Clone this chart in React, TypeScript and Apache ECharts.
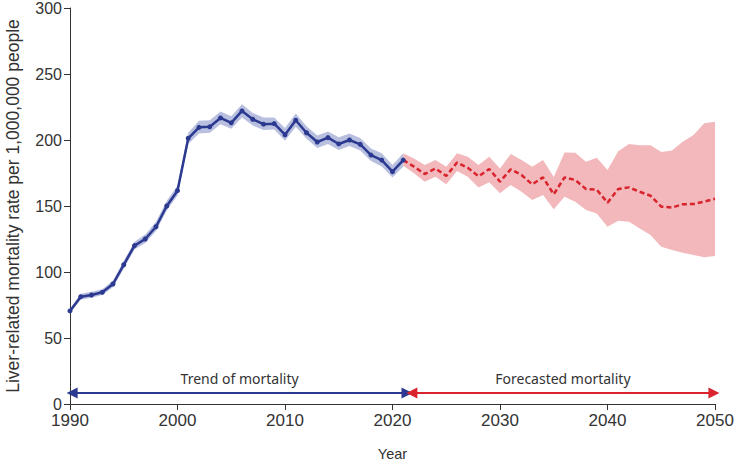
import React, { useEffect, useRef } from "react";
import * as echarts from "echarts";

const trendYears = [1990,1991,1992,1993,1994,1995,1996,1997,1998,1999,2000,2001,2002,2003,2004,2005,2006,2007,2008,2009,2010,2011,2012,2013,2014,2015,2016,2017,2018,2019,2020,2021];
const trendMean = [70.5,81.3,82.6,84.6,90.9,105.5,120,125,134.3,150,161.6,201.3,209.6,210,216.7,213,222,215.7,212,212.4,204,215,205.5,198.5,201.8,197,200,196.7,188.6,184.8,176,184.8];
const trendLower = [69,79,80.5,82.5,88.5,102.5,117,122,131,146.5,158,197,205,205.5,212,208.5,217,211,207.5,208,199.5,210,201,194,197,192.5,195.5,192,184,180,171.5,180];
const trendUpper = [72,83.5,85,87,93.5,108.5,123,128.5,138,154,165.5,205.5,214.5,215,221.5,218,227,220.5,217,217,209,220,210.5,203.5,206.5,202,205,201.5,193.5,190,181,190];

const forecastYears = [2021,2022,2023,2024,2025,2026,2027,2028,2029,2030,2031,2032,2033,2034,2035,2036,2037,2038,2039,2040,2041,2042,2043,2044,2045,2046,2047,2048,2049,2050];
const forecastMean = [184.8,179.8,174.2,178.5,172.7,183,179,172.5,178,168.4,177.8,173.5,166.4,171.7,158.9,171.7,169.7,162.9,162.4,152.5,162.9,164.1,160.8,157.8,149.5,148.8,151.3,151.5,153.3,155.5];
const forecastUpper = [190,186,181,184.8,179.8,190,187.4,181,187.4,178.5,189.4,184.8,179.8,184.8,172,190.6,190.4,183.6,186.6,177.3,191.4,197,196,196,191,192,198.7,203.8,212.6,213.9];
const forecastLower = [180.5,174.8,168.4,172.2,166.4,176.5,172.2,164,168,159.6,166,160.8,154.5,158.3,147.5,157,153.3,147,144.4,134.3,138.9,138.1,133,128,119.2,116.7,114.6,112.9,111.1,112.1];

const arrowLevel = 8.3;
const trendArrow = [1990.2, 2021.35];
const forecastArrow = [2021.8, 2049.9];
const trendLabel = "Trend of mortality";
const forecastLabel = "Forecasted mortality";

const BLUE = "#2b3990";
const RED = "#d9232d";
const AXIS = "#333333";

export default function App() {
  const ref = useRef<HTMLDivElement>(null);
  useEffect(() => {
    if (!ref.current) return;
    const chart = echarts.init(ref.current, null, { renderer: "svg" });
    const pairs = (xs: number[], ys: number[]) => xs.map((x, i) => [x, ys[i]]);
    const band = (xs: number[], mean: number[], up: number[], lo: number[], fill: string) => ({
      type: "custom",
      silent: true,
      data: pairs(xs, mean),
      encode: { x: 0, y: 1 },
      z: 1,
      renderItem: (params: any, api: any) => {
        if (params.dataIndex !== 0) return null;
        const top = xs.map((x, i) => api.coord([x, up[i]]));
        const bottom = xs.map((x, i) => api.coord([x, lo[i]])).reverse();
        return {
          type: "polygon",
          shape: { points: top.concat(bottom) },
          style: { fill },
        };
      },
    });
    const arrowLine = (from: number, to: number, color: string, text: string) => ({
      type: "line",
      data: [],
      silent: true,
      markLine: {
        silent: true,
        symbol: ["triangle", "triangle"],
        symbolSize: [11, 11],
        lineStyle: { color, width: 2, type: "solid" },
        itemStyle: { color },
        label: {
          show: true,
          position: "insideMiddleTop",
          distance: 8,
          formatter: text,
          color: "#333",
          fontFamily: "Noto Sans",
          fontSize: 14,
        },
        emphasis: { disabled: true },
        data: [[{ coord: [from, arrowLevel] }, { coord: [to, arrowLevel] }]],
      },
    });
    chart.setOption({
      animation: false,
      grid: { left: 70, right: 20, top: 8, bottom: 57, containLabel: false, outerBoundsMode: "none" },
      xAxis: {
        type: "value",
        min: 1990,
        max: 2050,
        interval: 10,
        name: "Year",
        nameLocation: "middle",
        nameGap: 42,
        nameTextStyle: { fontFamily: "Liberation Sans", fontSize: 14.5, color: "#333", verticalAlign: "top" },
        axisLine: { lineStyle: { color: AXIS, width: 1 } },
        axisTick: { show: true, length: 6, lineStyle: { color: AXIS } },
        axisLabel: { fontFamily: "Liberation Sans", fontSize: 17, color: "#333", margin: 8, formatter: (v: number) => String(v) },
        splitLine: { show: false },
      },
      yAxis: {
        type: "value",
        min: 0,
        max: 300,
        interval: 50,
        name: "Liver-related mortality rate per 1,000,000 people",
        nameLocation: "middle",
        nameGap: 48,
        nameTextStyle: { fontFamily: "Liberation Sans", fontSize: 17.5, color: "#333" },
        axisLine: { show: true, lineStyle: { color: AXIS, width: 1 } },
        axisTick: { show: true, length: 6, lineStyle: { color: AXIS } },
        axisLabel: { fontFamily: "Liberation Sans", fontSize: 16, color: "#333", margin: 8 },
        splitLine: { show: false },
      },
      series: [
        band(trendYears, trendMean, trendUpper, trendLower, "#b9c0df"),
        band(forecastYears, forecastMean, forecastUpper, forecastLower, "#f2b8bb"),
        {
          type: "line",
          data: pairs(trendYears, trendMean),
          symbol: "circle",
          symbolSize: 5,
          itemStyle: { color: BLUE },
          lineStyle: { color: BLUE, width: 2.5 },
          z: 5,
        },
        {
          type: "line",
          data: pairs(forecastYears, forecastMean),
          symbol: "none",
          lineStyle: { color: RED, width: 2.5, type: [5, 3] },
          z: 4,
        },
        arrowLine(trendArrow[0], trendArrow[1], BLUE, trendLabel),
        arrowLine(forecastArrow[0], forecastArrow[1], RED, forecastLabel),
      ],
    });
    return () => chart.dispose();
  }, []);
  return <div ref={ref} style={{ width: 735, height: 461, position: "absolute", left: 0, top: 0 }} />;
}
